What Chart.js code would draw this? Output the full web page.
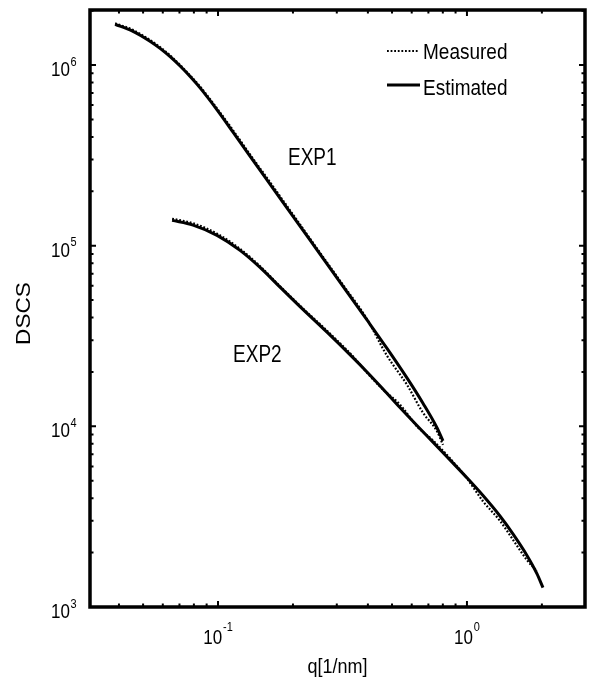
<!DOCTYPE html>
<html>
<head>
<meta charset="utf-8">
<script src="https://cdn.jsdelivr.net/npm/chart.js@4.4.1/dist/chart.umd.min.js"></script>
<style>
  html, body { margin: 0; padding: 0; background: #fff; }
  #wrap { width: 590px; height: 680px; }
</style>
</head>
<body>
<div id="wrap"><canvas id="dscs" width="590" height="680"></canvas></div>
<script>
// --- values: q [1/nm] and DSCS ---
const exp1Q = [0.0386, 0.04515, 0.0533, 0.0585, 0.0642, 0.0704, 0.0758, 0.0847, 0.0991, 0.1149, 0.1344, 0.1573, 0.1824, 0.2135, 0.2498, 0.309, 0.3967, 0.4773, 0.5741, 0.6657, 0.7578, 0.801];
const exp1Estimated = [1.68e6, 1.547e6, 1.355e6, 1.236e6, 1.112e6, 9.87e5, 8.88e5, 7.47e5, 5.65e5, 4.25e5, 3.13e5, 2.31e5, 1.739e5, 1.284e5, 9.48e4, 6.29e4, 3.88e4, 2.70e4, 1.854e4, 1.342e4, 9.82e3, 8.30e3];
const exp1Measured = [1.70e6, 1.57e6, 1.375e6, 1.255e6, 1.13e6, 1.0e6, 9.0e5, 7.6e5, 5.75e5, 4.35e5, 3.2e5, 2.37e5, 1.78e5, 1.31e5, 9.65e4, 6.4e4, 3.92e4, 2.46e4, 1.70e4, 1.19e4, 9.4e3, 7.9e3];

const exp2Q = [0.0654, 0.0794, 0.0991, 0.1226, 0.1475, 0.1725, 0.2135, 0.2741, 0.3484, 0.3967, 0.4599, 0.5382, 0.6297, 0.7304, 0.8546, 1.0, 1.16, 1.357, 1.53, 1.742, 1.91, 2.02];
const exp2Estimated = [1.38e5, 1.30e5, 1.14e5, 9.42e4, 7.58e4, 6.13e4, 4.60e4, 3.32e4, 2.40e4, 2.00e4, 1.61e4, 1.27e4, 1.01e4, 8.18e3, 6.52e3, 5.19e3, 4.14e3, 3.19e3, 2.54e3, 1.93e3, 1.53e3, 1.28e3];
const exp2Measured = [1.41e5, 1.33e5, 1.165e5, 9.6e4, 7.7e4, 6.2e4, 4.65e4, 3.38e4, 2.44e4, 1.98e4, 1.60e4, 1.32e4, 1.0e4, 8.35e3, 6.65e3, 5.15e3, 3.85e3, 3.0e3, 2.36e3, 1.82e3, 1.58e3, null];

const xTickValues = [0.1, 1];
const xTickExponents = ['-1', '0'];
const yTickValues = [1e3, 1e4, 1e5, 1e6];
const yTickExponents = ['3', '4', '5', '6'];
const legendLabels = ['Measured', 'Estimated'];
const curveLabels = ['EXP1', 'EXP2'];

const toPoints = (qs, vals) => qs.map((q, i) => ({ x: q, y: vals[i] })).filter(p => p.y !== null);

const FONT = '"Liberation Sans", Arial, sans-serif';
const MEASURED_DASH = [1.8, 1.8];

// text in the figure is a bit taller than it is wide
function stretchedText(ctx, text, x, y, size, align, sy) {
    ctx.save();
    ctx.font = `${size}px ${FONT}`;
    ctx.textAlign = align;
    ctx.textBaseline = 'alphabetic';
    ctx.translate(x, y);
    ctx.scale(1, sy);
    ctx.fillText(text, 0, 0);
    ctx.restore();
}

const framePlugin = {
    id: 'frame',
    afterDraw(chart, args, opts) {
        const { ctx, chartArea: a, scales: { x, y } } = chart;
        ctx.save();
        ctx.strokeStyle = '#000';
        ctx.fillStyle = '#000';

        // inward ticks on all four sides, majors at decades
        ctx.lineWidth = 2;
        ctx.beginPath();
        for (let e = -2; e <= 0; e++) {
            for (let m = 1; m <= 9; m++) {
                const v = m * Math.pow(10, e);
                if (v < x.min || v > x.max) continue;
                const px = x.getPixelForValue(v);
                const len = m === 1 ? 6 : 3.5;
                ctx.moveTo(px, a.bottom); ctx.lineTo(px, a.bottom - len);
                ctx.moveTo(px, a.top); ctx.lineTo(px, a.top + len);
            }
        }
        for (let e = 3; e <= 6; e++) {
            for (let m = 1; m <= 9; m++) {
                const v = m * Math.pow(10, e);
                if (v < y.min || v > y.max) continue;
                const py = y.getPixelForValue(v);
                const len = m === 1 ? 6 : 3.5;
                ctx.moveTo(a.left, py); ctx.lineTo(a.left + len, py);
                ctx.moveTo(a.right, py); ctx.lineTo(a.right - len, py);
            }
        }
        ctx.stroke();

        ctx.lineWidth = 3.5;
        ctx.strokeRect(a.left, a.top, a.right - a.left, a.bottom - a.top);

        // tick labels 10^n
        yTickValues.forEach((v, i) => {
            const py = y.getPixelForValue(v);
            stretchedText(ctx, '10', a.left - 20, py + 11, 17, 'right', 1.15);
            stretchedText(ctx, yTickExponents[i], a.left - 19.5, py + 0.5, 11, 'left', 1.15);
        });
        xTickValues.forEach((v, i) => {
            const px = x.getPixelForValue(v);
            ctx.font = `17px ${FONT}`;
            const wBase = ctx.measureText('10').width;
            ctx.font = `11px ${FONT}`;
            const wExp = ctx.measureText(xTickExponents[i]).width;
            const left = px - (wBase + wExp + 1) / 2;
            stretchedText(ctx, '10', left, a.bottom + 37, 17, 'left', 1.15);
            stretchedText(ctx, xTickExponents[i], left + wBase + 1, a.bottom + 24, 11, 'left', 1.15);
        });

        // axis titles
        stretchedText(ctx, 'q[1/nm]', (a.left + a.right) / 2, 673, 18, 'center', 1.12);
        ctx.save();
        ctx.translate(30, (a.top + a.bottom) / 2 + 5);
        ctx.rotate(-Math.PI / 2);
        ctx.scale(1.13, 1);
        ctx.font = `20px ${FONT}`;
        ctx.textAlign = 'center';
        ctx.fillText('DSCS', 0, 0);
        ctx.restore();

        // curve labels, anchored in data coordinates
        opts.curveLabelAt.forEach((pos, i) => {
            stretchedText(ctx, curveLabels[i], x.getPixelForValue(pos[0]), y.getPixelForValue(pos[1]), 19, 'left', 1.25);
        });

        // legend box (top right)
        const lx = a.right - 198;
        const rows = [a.top + 41, a.top + 75];
        ctx.lineWidth = 2.2;
        ctx.setLineDash(MEASURED_DASH);
        ctx.beginPath(); ctx.moveTo(lx, rows[0]); ctx.lineTo(lx + 31, rows[0]); ctx.stroke();
        ctx.setLineDash([]);
        ctx.lineWidth = 3;
        ctx.beginPath(); ctx.moveTo(lx, rows[1]); ctx.lineTo(lx + 33, rows[1]); ctx.stroke();
        stretchedText(ctx, legendLabels[0], lx + 36, rows[0] + 8, 19, 'left', 1.2);
        stretchedText(ctx, legendLabels[1], lx + 36, rows[1] + 10, 19, 'left', 1.2);

        ctx.restore();
    }
};

const estimatedStyle = {
    borderColor: '#000', borderWidth: 3, pointRadius: 0, cubicInterpolationMode: 'monotone', fill: false
};
const measuredStyle = {
    borderColor: '#000', borderWidth: 2.2, borderDash: MEASURED_DASH, pointRadius: 0, cubicInterpolationMode: 'monotone', fill: false
};

new Chart(document.getElementById('dscs'), {
    type: 'line',
    data: {
        datasets: [
            { label: 'EXP1 Estimated', data: toPoints(exp1Q, exp1Estimated), ...estimatedStyle },
            { label: 'EXP2 Estimated', data: toPoints(exp2Q, exp2Estimated), ...estimatedStyle },
            { label: 'EXP1 Measured', data: toPoints(exp1Q, exp1Measured), ...measuredStyle },
            { label: 'EXP2 Measured', data: toPoints(exp2Q, exp2Measured), ...measuredStyle }
        ]
    },
    options: {
        responsive: false,
        animation: false,
        layout: { padding: { left: 90, right: 5, top: 10, bottom: 73 } },
        plugins: {
            legend: { display: false },
            tooltip: { enabled: false },
            frame: { curveLabelAt: [[0.191, 2.79e5], [0.1149, 2.26e4]] }
        },
        scales: {
            x: { type: 'logarithmic', min: 0.0306, max: 2.98, display: false },
            y: { type: 'logarithmic', min: 1000, max: 2.016e6, display: false }
        }
    },
    plugins: [framePlugin]
});
</script>
</body>
</html>
